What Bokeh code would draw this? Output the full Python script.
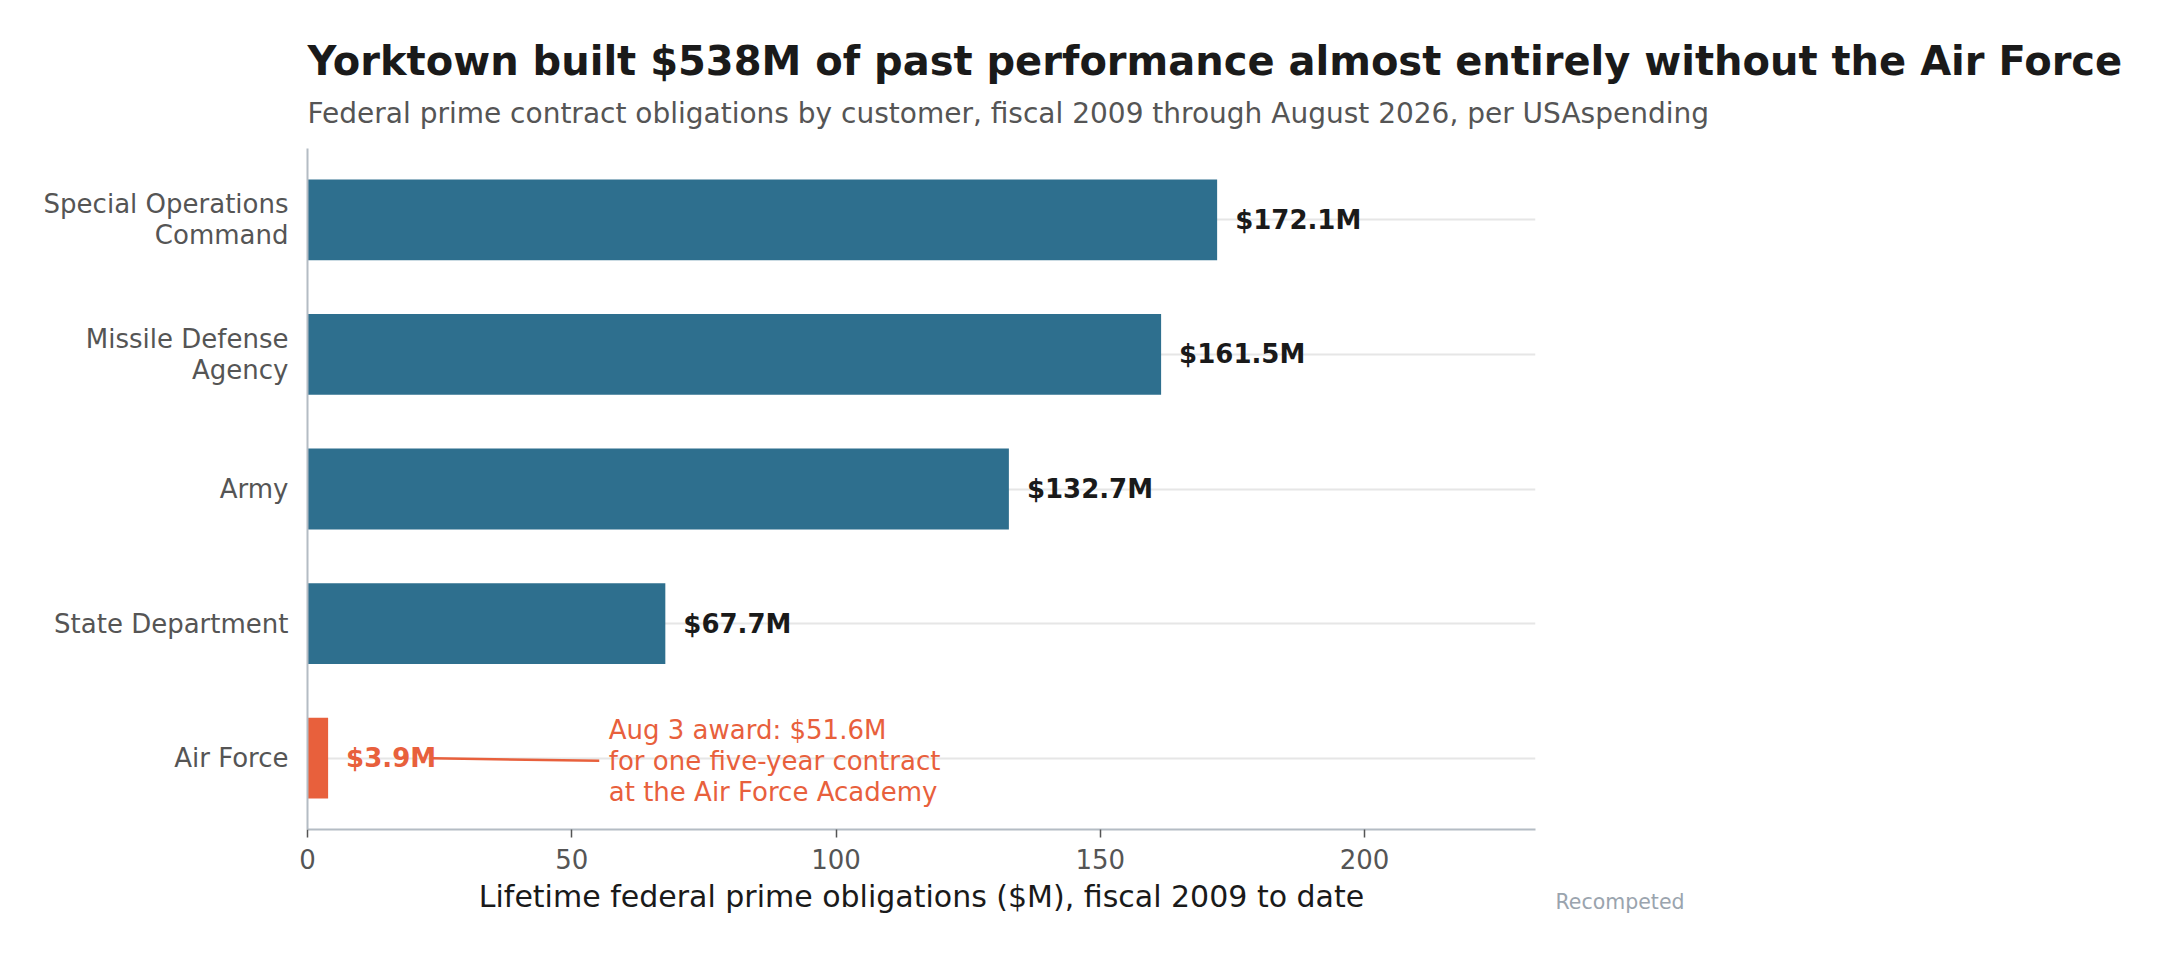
from bokeh.plotting import figure
from bokeh.models import Range1d, FixedTicker, Title
from bokeh.embed import file_html
from bokeh.resources import INLINE
from bokeh.core.properties import value

# ---- data ----
categories = ["Special Operations Command", "Missile Defense Agency", "Army",
              "State Department", "Air Force"]
tick_labels = ["Special Operations\nCommand", "Missile Defense\nAgency", "Army",
               "State Department", "Air Force"]
obligations = [172.1, 161.5, 132.7, 67.7, 3.9]
value_labels = ["$172.1M", "$161.5M", "$132.7M", "$67.7M", "$3.9M"]
highlight = [False, False, False, False, True]
x_ticks = [0, 50, 100, 150, 200]
annotation_text = "Aug 3 award: $51.6M\nfor one five-year contract\nat the Air Force Academy"

TITLE = "Yorktown built $538M of past performance almost entirely without the Air Force"
SUBTITLE = ("Federal prime contract obligations by customer, fiscal 2009 through "
            "August 2026, per USAspending")
XLABEL = "Lifetime federal prime obligations ($M), fiscal 2009 to date"
NOTE = "Recompeted"

# ---- styles ----
FONT = "DejaVu Sans"
BLUE = "#2E6F8E"
ORANGE = "#E8603C"
DARK = "#1a1a1a"
GREY_TXT = "#555555"
SPINE = "#B4BCC4"
GRID = "#E6E6E6"

n = len(categories)
ypos = list(range(n))
bar_colors = [ORANGE if h else BLUE for h in highlight]
label_colors = [ORANGE if h else DARK for h in highlight]

xmax = max(obligations) * 1.35
pad = 0.53

W, H = 2150, 944
FL, FR, FT, FB = 307, 1535, 148, 829   # frame edges on the canvas
p = figure(width=W, height=H, output_backend="svg", toolbar_location=None,
           x_range=Range1d(0, xmax), y_range=Range1d(n - 1 + pad, -pad),
           min_border_left=FL, min_border_right=W - FR, min_border_top=FT,
           min_border_bottom=H - FB)
p.outline_line_color = None
p.background_fill_color = "white"
p.border_fill_color = "white"

# grid
p.xgrid.grid_line_color = None
p.ygrid.ticker = FixedTicker(ticks=ypos)
p.ygrid.grid_line_color = GRID
p.ygrid.grid_line_width = 2

# bars
p.hbar(y=ypos, left=0, right=obligations, height=0.6, fill_color=bar_colors,
       line_color=None)

# value labels
p.text(x=obligations, y=ypos, text=value_labels, x_offset=18,
       text_baseline="middle", text_align="left",
       text_font=value(FONT), text_font_style="bold", text_font_size="26px",
       text_color=label_colors)

# annotation for Air Force
af = highlight.index(True)
ann_x = 57
p.segment(x0=[23.6], y0=[ypos[af]], x1=[55.2], y1=[ypos[af] + 0.02],
          line_color=ORANGE, line_width=2.5)
p.text(x=[ann_x], y=[ypos[af]], text=[annotation_text], text_align="left",
       text_baseline="middle", text_font=value(FONT), text_font_size="26px",
       text_color=ORANGE, text_line_height=1.04, y_offset=3)

# axes
p.yaxis.ticker = FixedTicker(ticks=ypos)
p.yaxis.major_label_overrides = {i: t for i, t in zip(ypos, tick_labels)}
p.yaxis.axis_line_color = SPINE
p.yaxis.axis_line_width = 2
p.yaxis.major_tick_line_color = None
p.yaxis.minor_tick_line_color = None
p.yaxis.major_tick_out = 0
p.yaxis.major_tick_in = 0
p.yaxis.major_label_standoff = 19
p.yaxis.major_label_text_font = FONT
p.yaxis.major_label_text_font_size = "26px"
p.yaxis.major_label_text_color = GREY_TXT
p.yaxis.major_label_text_line_height = 1.03

p.xaxis.ticker = FixedTicker(ticks=x_ticks)
p.xaxis.axis_line_color = SPINE
p.xaxis.axis_line_width = 2
p.xaxis.major_tick_line_color = GREY_TXT
p.xaxis.major_tick_line_width = 1.5
p.xaxis.major_tick_out = 8
p.xaxis.major_tick_in = 0
p.xaxis.minor_tick_line_color = None
p.xaxis.major_label_standoff = 11
p.xaxis.major_label_text_font = FONT
p.xaxis.major_label_text_font_size = "26px"
p.xaxis.major_label_text_color = GREY_TXT
p.xaxis.axis_label = XLABEL
p.xaxis.axis_label_text_font = FONT
p.xaxis.axis_label_text_font_size = "30px"
p.xaxis.axis_label_text_font_style = "normal"
p.xaxis.axis_label_text_color = DARK
p.xaxis.axis_label_standoff = 7

# titles (subtitle first: closest to the frame)
p.add_layout(Title(text=SUBTITLE, align="left", text_font=FONT,
                   text_font_size="28px", text_font_style="normal",
                   text_color=GREY_TXT, standoff=38), "above")
p.add_layout(Title(text=TITLE, align="left", text_font=FONT,
                   text_font_size="40px", text_font_style="bold",
                   text_color=DARK, standoff=-16), "above")

# note at bottom right, below the axis panel
p.add_layout(Title(text=NOTE, align="left", offset=1555 - FL, text_font=FONT,
                   text_font_size="20.5px", text_font_style="normal",
                   text_color="#9AA4AE", standoff=-53, vertical_align="top"),
             "below")

open("out.html", "w").write(file_html(p, INLINE))
